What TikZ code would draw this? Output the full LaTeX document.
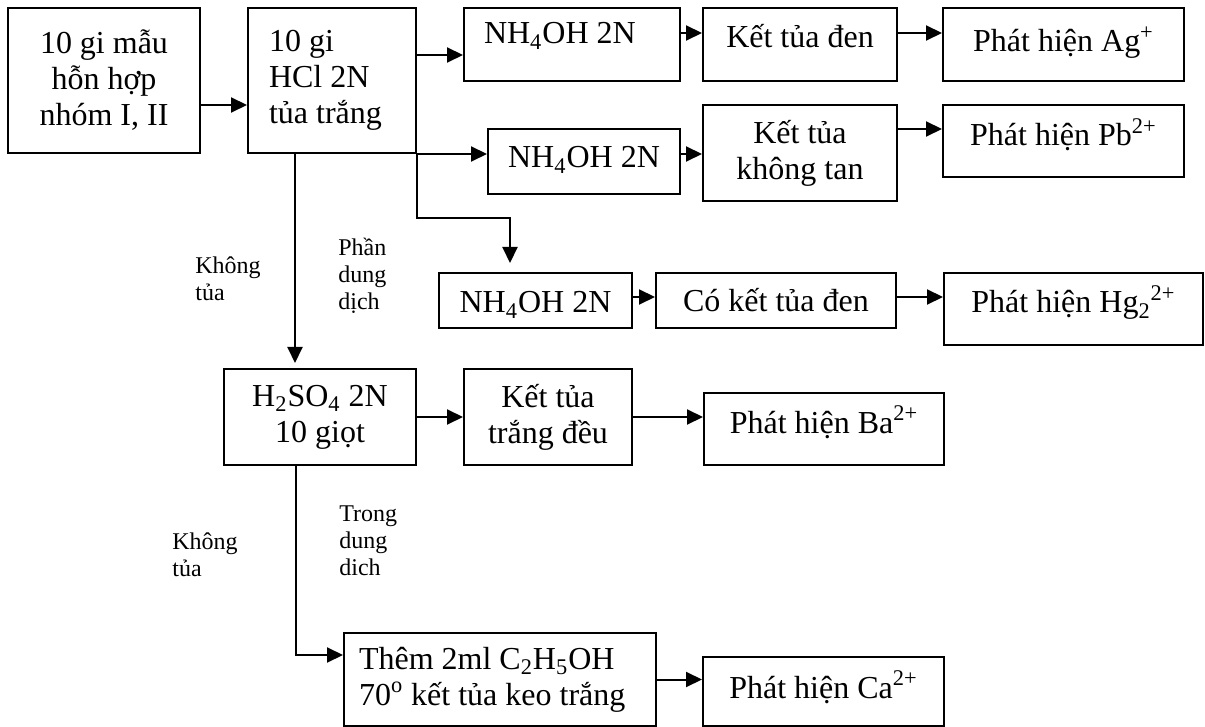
\documentclass[tikz,border=0pt]{standalone}
\usepackage{fontspec}
\setmainfont{Liberation Serif}
\usepackage{tikz}
\usetikzlibrary{arrows.meta,calc,positioning}

\begin{document}
\begin{tikzpicture}[x=0.5pt,y=-0.5pt,
    box/.style={draw,line width=1pt,anchor=north west,align=center,inner sep=0pt,
      font=\fontsize{16}{18}\selectfont},
    single/.style 2 args={text height=#1,text depth=#2},
    note/.style={anchor=north west,align=flush left,inner sep=0pt,font=\fontsize{12}{13.5}\selectfont},
    flow/.style={-{Triangle[length=8pt,width=7.5pt]},line width=1pt}
  ]
    \useasboundingbox (0,0) rectangle (1205,727);

    \node[box,minimum width=96pt,minimum height=72.5pt] (sample) at (7,7) {10 gi mẫu\\hỗn hợp\\nhóm I, II};
    \node[box,align=flush left,text width=63pt,inner xsep=10.5pt,minimum height=72.5pt] (hcl) at (247,7) {10 gi\\HCl 2N\\tủa trắng};

    \node[box,single={18pt}{18.5pt},align=flush left,text width=88pt,inner xsep=10pt] (nhAg) at (463,7) {NH\textsubscript{4}OH 2N};
    \node[box,single={20pt}{16.5pt},minimum width=97pt] (ketAg) at (702,7) {Kết tủa đen};
    \node[box,single={22pt}{14.5pt},minimum width=120.5pt] (ionAg) at (942,7) {Phát hiện Ag\textsuperscript{+}};

    \node[box,single={19.5pt}{13pt},minimum width=96pt] (nhPb) at (487,128) {NH\textsubscript{4}OH 2N};
    \node[box,minimum width=97pt,minimum height=48pt] (ketPb) at (702,104) {Kết tủa\\không tan};
    \node[box,single={20.5pt}{15.5pt},minimum width=120.5pt] (ionPb) at (942,104) {Phát hiện Pb\textsuperscript{2+}};

    \node[box,single={20pt}{7.5pt},minimum width=96.5pt] (nhHg) at (438,272) {NH\textsubscript{4}OH 2N};
    \node[box,single={19.5pt}{8pt},minimum width=120pt] (ketHg) at (655,272) {Có kết tủa đen};
    \node[box,single={20pt}{16pt},minimum width=129.5pt] (ionHg) at (943,272) {Phát hiện Hg\textsubscript{2}\textsuperscript{2+}};

    \node[box,minimum width=96pt,minimum height=48pt] (sulfat) at (223,368) {H\textsubscript{2}SO\textsubscript{4} 2N\\10 giọt};
    \node[box,minimum width=84pt,minimum height=48pt] (ketBa) at (463,368) {Kết tủa\\trắng đều};
    \node[box,single={20pt}{16pt},minimum width=120pt] (ionBa) at (703,392) {Phát hiện Ba\textsuperscript{2+}};

    \node[box,align=flush left,text width=141pt,inner xsep=7.5pt,minimum height=46.5pt] (ethanol) at (343,632) {Thêm 2ml C\textsubscript{2}H\textsubscript{5}OH\\70\textsuperscript{o} kết tủa keo trắng};
    \node[box,single={20.5pt}{14pt},minimum width=120.5pt] (ionCa) at (702,656) {Phát hiện Ca\textsuperscript{2+}};

    \node[note] (noPptA) at (195,256) {Không\\tủa};
    \node[note] (solA) at (338,238) {Phần\\dung\\dịch};
    \node[note] (noPptB) at (172,532) {Không\\tủa};
    \node[note] (solB) at (339,505) {Trong\\dung\\dich};

    \coordinate (split) at (510,218);

    \draw[flow] ([yshift=-12.25pt]sample.east) -- ([yshift=-12.25pt]sample.east -| hcl.west);
    \draw[flow] ([yshift=-5.25pt]nhAg.west -| hcl.east) -- ([yshift=-5.25pt]nhAg.west);
    \draw[flow] (hcl.south east) -- (hcl.south east -| nhPb.west);
    \draw[flow,shorten >=4.5pt] (hcl.south east) |- (split) -- (split |- nhHg.north);

    \draw[flow] ([yshift=5.75pt]nhAg.east) -- ([yshift=5.75pt]nhAg.east -| ketAg.west);
    \draw[flow] ([yshift=5.75pt]ketAg.east) -- ([yshift=5.75pt]ketAg.east -| ionAg.west);
    \draw[flow] ([yshift=3.75pt]nhPb.east) -- ([yshift=3.75pt]nhPb.east -| ketPb.west);
    \draw[flow] ([yshift=12pt]ketPb.east) -- ([yshift=12pt]ketPb.east -| ionPb.west);
    \draw[flow] ([yshift=1.75pt]nhHg.east) -- ([yshift=1.75pt]nhHg.east -| ketHg.west);
    \draw[flow] ([yshift=1.75pt]ketHg.east) -- ([yshift=1.75pt]ketHg.east -| ionHg.west);

    \draw[flow,shorten >=2.5pt] ([xshift=-18.5pt]hcl.south) -- ([xshift=-18.5pt]hcl.south |- sulfat.north);
    \draw[flow] (sulfat.east) -- (ketBa.west);
    \draw[flow] (ketBa.east) -- (ketBa.east -| ionBa.west);
    \draw[flow] ([xshift=-12pt]sulfat.south) |- ([yshift=12.25pt]ethanol.west);
    \draw[flow] (ethanol.east) -- (ethanol.east -| ionCa.west);
\end{tikzpicture}
\end{document}
